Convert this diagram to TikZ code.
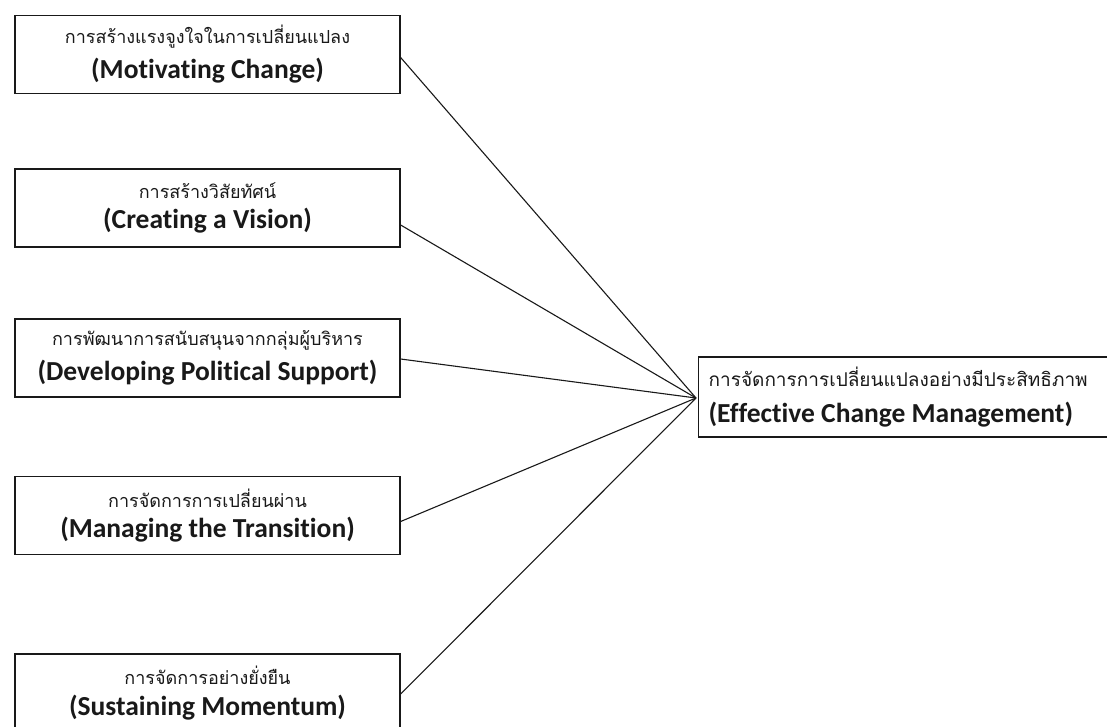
\documentclass[tikz,border=0pt]{standalone}
\usepackage{fontspec}
\setmainfont{Carlito}[Ligatures=NoCommon]
\newfontfamily\thaifont[Script=Thai]{Loma}
\newcommand{\twolines}[2]{{\thaifont\fontsize{18}{21}\selectfont #1}\\[9pt]{\bfseries\fontsize{27.5}{30}\selectfont #2}}
\begin{document}
\begin{tikzpicture}[x=1pt,y=-1pt,
  box/.style={draw=black!90, line width=1.3pt, minimum width=385pt, minimum height=78pt, align=center, inner sep=0pt, text=black!90},
  link/.style={draw=black!90, line width=1.1pt}]
\useasboundingbox (0,0) rectangle (1107,726);
\fill[white] (0,0) rectangle (1107,726);
\node[box] (b1) at (207.5,54.5) {\twolines{การสร้างแรงจูงใจในการเปลี่ยนแปลง}{(Motivating Change)}};
\node[box] (b2) at (207.5,208) {\twolines{การสร้างวิสัยทัศน์}{(Creating a Vision)}};
\node[box] (b3) at (207.5,358) {\twolines{การพัฒนาการสนับสนุนจากกลุ่มผู้บริหาร}{(Developing Political Support)}};
\node[box] (b4) at (207.5,515.5) {\twolines{การจัดการการเปลี่ยนผ่าน}{(Managing the Transition)}};
\node[box] (b5) at (207.5,693) {\twolines{การจัดการอย่างยั่งยืน}{(Sustaining Momentum)}};
\node[box, anchor=west, minimum width=420pt, minimum height=80pt, text width=400pt, align=flush left, inner xsep=6pt] (t) at (698,397)
  {{\thaifont\fontsize{19}{22}\selectfont การจัดการการเปลี่ยนแปลงอย่างมีประสิทธิภาพ}\\[14pt]{\bfseries\fontsize{27.5}{30}\selectfont (Effective Change Management)}};
\coordinate (c) at (696,398);
\draw[link] ([yshift=-3pt]b1.east) -- (c);
\draw[link] ([yshift=-17pt]b2.east) -- (c);
\draw[link] ([yshift=-1pt]b3.east) -- (c);
\draw[link] ([yshift=-6pt]b4.east) -- (c);
\draw[link] ([yshift=-1pt]b5.east) -- (c);
\end{tikzpicture}
\end{document}
